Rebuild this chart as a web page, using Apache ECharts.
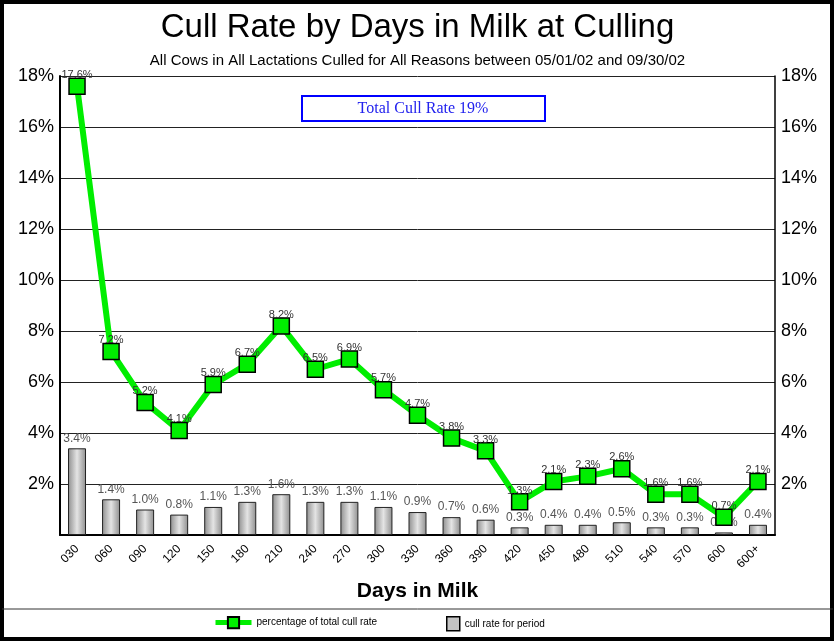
<!DOCTYPE html>
<html>
<head>
<meta charset="utf-8">
<script src="https://cdn.jsdelivr.net/npm/echarts@6/dist/echarts.min.js"></script>
<style>
  html, body { margin: 0; padding: 0; background: #fff; }
  #main { width: 835px; height: 643px; }
</style>
</head>
<body>
<div id="main"></div>
<script>
// days in milk groups
var categories = ['030','060','090','120','150','180','210','240','270','300','330','360','390','420','450','480','510','540','570','600','600+'];
// percentage of total cull rate (line)
var pctTotal = [17.6, 7.2, 5.2, 4.1, 5.9, 6.7, 8.2, 6.5, 6.9, 5.7, 4.7, 3.8, 3.3, 1.3, 2.1, 2.3, 2.6, 1.6, 1.6, 0.7, 2.1];
// cull rate for period (bars)
var cullPeriod = [3.4, 1.4, 1.0, 0.8, 1.1, 1.3, 1.6, 1.3, 1.3, 1.1, 0.9, 0.7, 0.6, 0.3, 0.4, 0.4, 0.5, 0.3, 0.3, 0.1, 0.4];

var font = 'Liberation Sans, Arial, sans-serif';

var chart = echarts.init(document.getElementById('main'));

function pctLabel(p) {
	return p.value.toFixed(1) + '%';
}

function pctAxis(pos) {
	return {
		type: 'value',
		position: pos,
		min: 0,
		max: 18,
		interval: 2,
		axisLine: { show: true, lineStyle: { color: '#000', width: pos == 'left' ? 2 : 1.5 } },
		axisTick: { show: false },
		splitLine: { show: pos == 'left', lineStyle: { color: '#222', width: 1 } },
		axisLabel: {
			color: '#000',
			fontSize: 18,
			fontFamily: font,
			margin: 6,
			formatter: function (v) { return v === 0 ? '' : v + '%'; }
		}
	};
}

var option = {
	animation: false,
	backgroundColor: '#fff',
	title: {
		text: 'Cull Rate by Days in Milk at Culling',
		subtext: 'All Cows in All Lactations Culled for All Reasons between 05/01/02 and 09/30/02',
		left: 'center',
		top: 6,
		itemGap: 9,
		textStyle: { fontSize: 33, fontWeight: 'normal', color: '#000', fontFamily: font },
		subtextStyle: { fontSize: 15, color: '#000', fontFamily: font }
	},
	grid: { left: 60, right: 60, top: 76, bottom: 108 },
	legend: [
		{
			data: [{ name: 'percentage of total cull rate', lineStyle: { width: 5 } }],
			left: 208,
			top: 611,
			itemWidth: 36,
			itemHeight: 14,
			textStyle: { fontSize: 10, color: '#000', fontFamily: font }
		},
		{
			data: [{ name: 'cull rate for period', itemStyle: { color: '#c4c4c4', borderColor: '#000', borderWidth: 1.5 } }],
			left: 441,
			top: 611,
			itemWidth: 13,
			itemHeight: 14,
			icon: 'rect',
			textStyle: { fontSize: 10, color: '#000', fontFamily: font }
		}
	],
	xAxis: {
		type: 'category',
		data: categories,
		boundaryGap: true,
		name: 'Days in Milk',
		nameLocation: 'middle',
		nameGap: 46,
		nameTextStyle: { fontSize: 21, fontWeight: 'bold', color: '#000', fontFamily: font },
		axisLine: { lineStyle: { color: '#000', width: 2 } },
		axisTick: { inside: true, length: 6, lineStyle: { color: '#555' } },
		axisLabel: { rotate: 45, interval: 0, fontSize: 12, color: '#000', fontFamily: font, margin: 12 }
	},
	yAxis: [pctAxis('left'), pctAxis('right')],
	graphic: [
		{
			type: 'rect',
			shape: { x: 2, y: 2, width: 830, height: 637 },
			style: { fill: 'none', stroke: '#000', lineWidth: 4 }
		},
		{
			type: 'line',
			shape: { x1: 2, y1: 609, x2: 833, y2: 609 },
			style: { stroke: '#333', lineWidth: 1 }
		},
		{
			type: 'group',
			left: 301,
			top: 95,
			children: [
				{
					type: 'rect',
					shape: { x: 0, y: 0, width: 243, height: 25 },
					style: { fill: '#fff', stroke: '#0000ff', lineWidth: 2 }
				},
				{
					type: 'text',
					x: 121,
					y: 12.5,
					style: {
						text: 'Total Cull Rate 19%',
						fill: '#2222ee',
						fontSize: 16,
						fontFamily: 'Liberation Serif, Times New Roman, serif',
						align: 'center',
						verticalAlign: 'middle'
					}
				}
			]
		}
	],
	series: [
		{
			name: 'cull rate for period',
			type: 'bar',
			yAxisIndex: 0,
			data: cullPeriod,
			barWidth: 18,
			itemStyle: {
				color: {
					type: 'linear', x: 0, y: 0, x2: 1, y2: 0,
					colorStops: [
						{ offset: 0, color: '#8e8e8e' },
						{ offset: 0.5, color: '#e4e4e4' },
						{ offset: 1, color: '#8e8e8e' }
					]
				},
				borderColor: '#222',
				borderWidth: 1
			},
			label: {
				show: true,
				position: 'top',
				distance: 4,
				formatter: pctLabel,
				fontSize: 12,
				color: '#555',
				fontFamily: font
			}
		},
		{
			name: 'percentage of total cull rate',
			type: 'line',
			yAxisIndex: 0,
			data: pctTotal,
			symbol: 'rect',
			symbolSize: 16,
			z: 3,
			lineStyle: { color: '#00ee00', width: 6 },
			itemStyle: { color: '#00ee00', borderColor: '#000', borderWidth: 1.5 },
			label: {
				show: true,
				position: 'top',
				distance: -3,
				formatter: pctLabel,
				fontSize: 11,
				color: '#333',
				fontFamily: font
			}
		}
	]
};

chart.setOption(option);
</script>
</body>
</html>
